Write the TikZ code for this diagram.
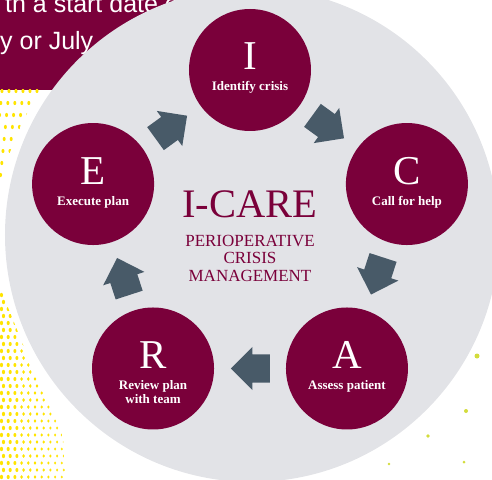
\documentclass[tikz,border=0pt]{standalone}
\usepackage{fontspec}
\setmainfont{Liberation Serif}
\newfontfamily\bannerfont{Liberation Sans}
\usetikzlibrary{calc, shapes.arrows}
\definecolor{crisisred}{HTML}{7A003A}
\definecolor{ringgray}{HTML}{E2E3E7}
\definecolor{arrowslate}{HTML}{485A68}
\definecolor{dotyellow}{HTML}{FFE400}
\definecolor{dotlime}{HTML}{D3DC3C}
\tikzset{
    stepbox/.style={circle, fill=crisisred, minimum size=122pt, inner sep=0pt},
    steplet/.style={anchor=base, text=white, inner sep=0pt, font=\fontsize{41}{41}\selectfont},
    steptext/.style={anchor=base, text=white, inner sep=0pt, align=center, font=\fontsize{13}{14}\selectfont\bfseries},
    flowarrow/.style={single arrow, fill=arrowslate, draw=none, anchor=tip, minimum height=39pt, minimum width=43pt, inner xsep=0pt, inner ysep=14pt, single arrow head extend=7.5pt, single arrow tip angle=90},
    bannertext/.style={anchor=base west, text=white, inner sep=0pt, font=\bannerfont\fontsize{25}{25}\selectfont},
    titletext/.style={anchor=base, text=crisisred, inner sep=0pt, align=center}
}

\begin{document}
\begin{tikzpicture}[x=1pt, y=1pt]
    \useasboundingbox (-250,-244) rectangle (242,235);
    \clip (-250,-244) rectangle (242,235);

    % banner behind the ring
    \fill[crisisred] (-250,235) rectangle (-40,145);
    \node[bannertext] (line1) at (-245,222) {th a start date of};
    \node[bannertext] (line2) at (-250,185) {y or July};

    % halftone dots, lower left
    \begin{scope}
        \clip (-250,-50) -- (-245,-65) -- (-230,-102) -- (-217,-135) -- (-200,-168) -- (-187,-202) -- (-184,-244) -- (-250,-244) -- cycle;
        \foreach \i in {0,...,10}
            \foreach \j in {0,...,28} {
                \pgfmathsetmacro\rx{1.6-0.06*\i}
                \pgfmathsetmacro\ry{2.2-0.08*\i}
                \pgfmathsetmacro\dx{-248.5+\i*6.7+mod(\j,2)*2}
                \fill[dotyellow] (\dx, -242+\j*7) ellipse ({\rx} and {\ry});
            }
    \end{scope}
    % halftone dots, upper left
    \begin{scope}
        \clip (-250,147) -- (-208,147) -- (-218,132) -- (-230,107) -- (-240,83) -- (-247,60) -- (-250,57) -- cycle;
        \foreach \i in {0,...,6}
            \foreach \j in {0,...,7} {
                \fill[dotyellow] (-248+\i*7-\j*1.2, 144-\j*12) ellipse (1.5 and 2.1);
            }
    \end{scope}

    % scattered dots, lower right
    \fill[dotlime] (227,-121) circle (2.5);
    \fill[dotlime] (216,-176) circle (2);
    \fill[dotlime] (178,-201) circle (1.8);
    \fill[dotlime] (139,-229) circle (1.3);
    \fill[dotlime] (214,-227) circle (1.5);

    \node[circle, fill=ringgray, minimum size=494pt, inner sep=0pt] (ring) at (2,0) {};

    \node[stepbox] (I) at (90:165) {};
    \node[stepbox] (C) at (18:165) {};
    \node[stepbox] (A) at (-54:165) {};
    \node[stepbox] (R) at (-126:165) {};
    \node[stepbox] (E) at (162:165) {};

    \node[steplet] (Ilet) at (I.center) {I};
    \node[steptext] (Itext) at ([yshift=-21pt]I.center) {Identify crisis};
    \node[steplet] (Clet) at (C.center) {C};
    \node[steptext] (Ctext) at ([yshift=-21pt]C.center) {Call for help};
    \node[steplet] (Alet) at (A.center) {A};
    \node[steptext] (Atext) at ([yshift=-21pt]A.center) {Assess patient};
    \node[steplet] (Rlet) at (R.center) {R};
    \node[steptext] (Rtext) at ([yshift=-35pt]R.center) {Review plan\\with team};
    \node[steplet] (Elet) at (E.center) {E};
    \node[steptext] (Etext) at ([yshift=-21pt]E.center) {Execute plan};

    % block arrows, tip half a length past each edge midpoint
    \node[flowarrow, rotate=-36] (IC) at ($($(I)!0.5!(C)$)!19.5pt!(C)$) {};
    \node[flowarrow, rotate=-108] (CA) at ($($(C)!0.5!(A)$)!19.5pt!(A)$) {};
    \node[flowarrow, rotate=180] (AR) at ($($(A)!0.5!(R)$)!19.5pt!(R)$) {};
    \node[flowarrow, rotate=108] (RE) at ($($(R)!0.5!(E)$)!19.5pt!(E)$) {};
    \node[flowarrow, rotate=36] (EI) at ($($(E)!0.5!(I)$)!19.5pt!(I)$) {};

    \node[titletext, font=\fontsize{40.5}{40.5}\selectfont] (title) at (0,18) {I-CARE};
    \node[titletext, font=\fontsize{17}{17.5}\selectfont] (subtitle) at (0,-46) {PERIOPERATIVE\\CRISIS\\MANAGEMENT};
\end{tikzpicture}
\end{document}
